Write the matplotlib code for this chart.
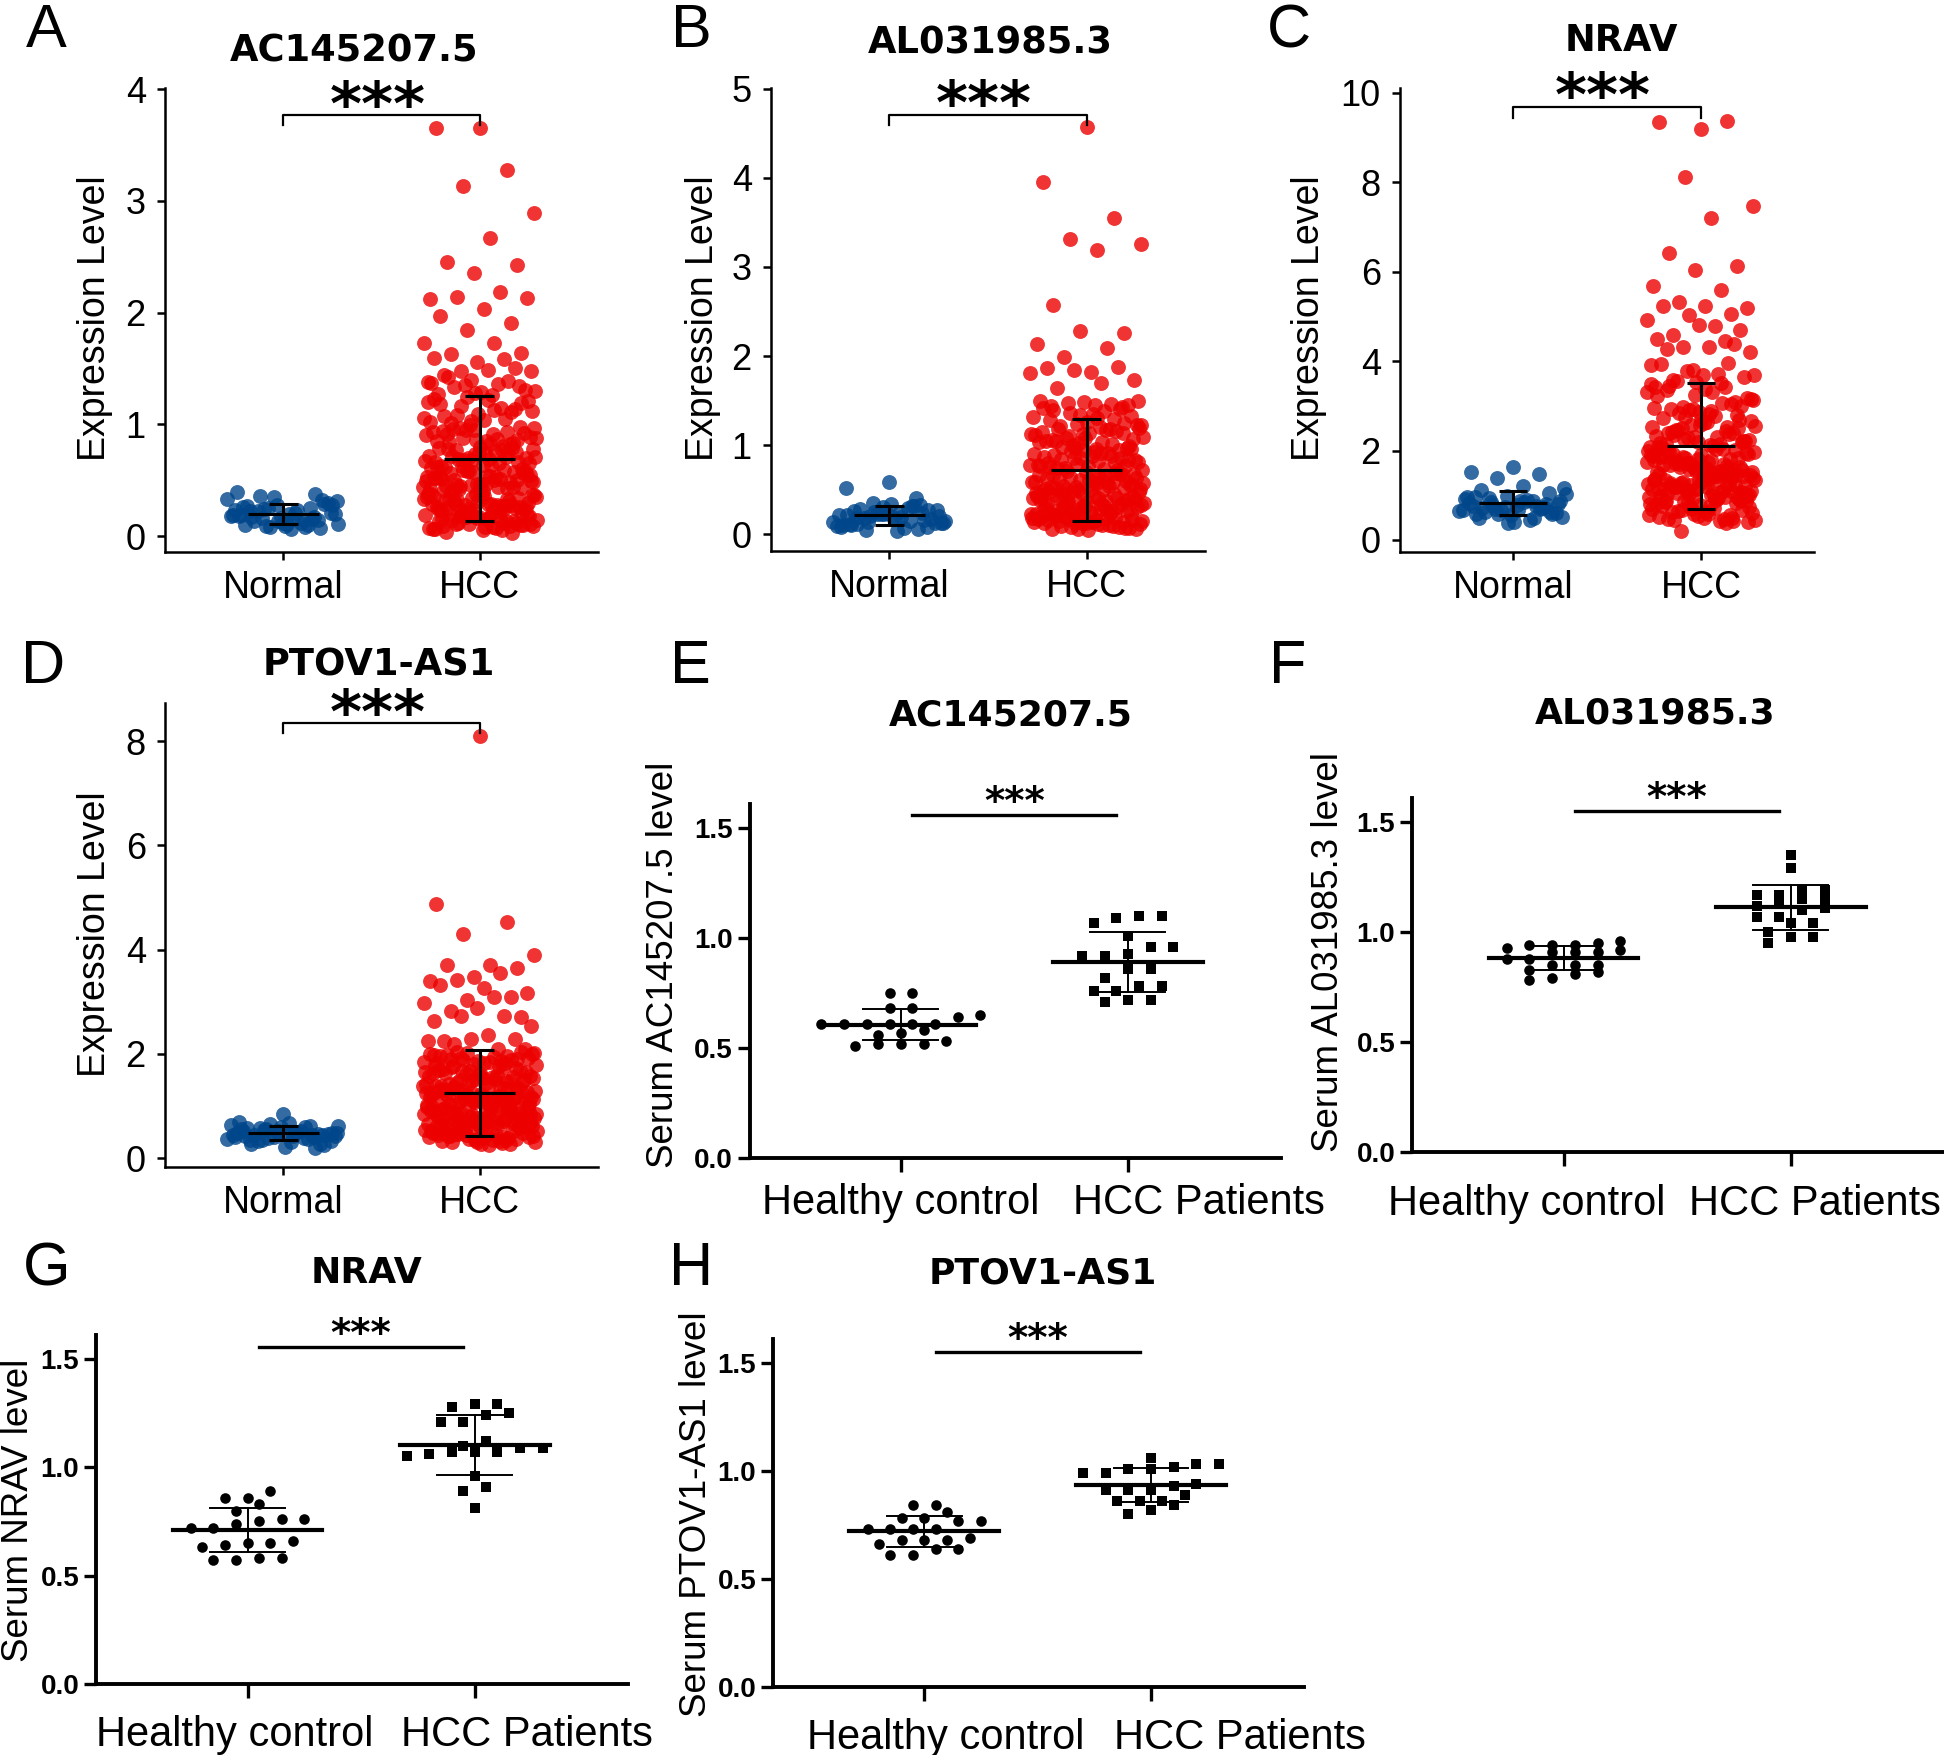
import numpy as np
import matplotlib
matplotlib.use("Agg")
import matplotlib.pyplot as plt
from matplotlib.transforms import ScaledTranslation

plt.rcParams['font.family'] = ['Liberation Sans', 'DejaVu Sans']

W, H = 1944, 1755
BLUE = "#00468B"
RED = "#ED0000"

# ---- TCGA panels (A-D): expression values ----
a_normal = [0.12, 0.18, 0.25, 0.09, 0.31, 0.15, 0.22, 0.07, 0.28, 0.19,
            0.14, 0.36, 0.21, 0.11, 0.26, 0.17, 0.08, 0.33, 0.23, 0.13,
            0.29, 0.16, 0.39, 0.10, 0.24, 0.20, 0.06, 0.27, 0.14, 0.35,
            0.18, 0.12, 0.22, 0.30, 0.09, 0.19, 0.15, 0.25, 0.11, 0.21,
            0.17, 0.32, 0.13, 0.23, 0.08, 0.16, 0.28, 0.20, 0.10, 0.38]
a_hcc = [3.65, 3.65, 3.28, 3.13, 2.89, 2.67, 2.45, 2.43, 2.35, 2.12,
         2.18, 2.14, 2.13, 2.03, 1.97, 1.91, 1.84, 1.73, 1.73, 1.63,
         1.64, 1.56, 1.59, 1.58, 1.48, 1.48, 1.49, 1.44, 1.50,
         1.40, 1.38, 1.36, 1.33, 1.31, 1.29, 1.27, 1.39, 1.35, 1.30,
         1.26, 1.42, 1.34, 1.28, 1.37,
         0.05, 0.12, 0.18, 0.08, 0.15, 0.03, 0.11, 0.19, 0.07, 0.14,
         0.10, 0.17, 0.06, 0.13, 0.20, 0.09, 0.16, 0.04, 0.12, 0.18,
         0.07, 0.15, 0.11, 0.19, 0.05, 0.13, 0.09, 0.17, 0.14, 0.08,
         0.20, 0.10, 0.16, 0.06, 0.12, 0.18, 0.11, 0.15, 0.09, 0.13,
         0.22, 0.35, 0.28, 0.31, 0.24, 0.39, 0.26, 0.33, 0.21, 0.37,
         0.29, 0.25, 0.34, 0.23, 0.38, 0.27, 0.32, 0.30, 0.36, 0.22,
         0.28, 0.24, 0.33, 0.26, 0.39, 0.21, 0.31, 0.35, 0.27, 0.23,
         0.37, 0.29, 0.32, 0.25, 0.34, 0.38, 0.22, 0.30, 0.26, 0.36,
         0.24, 0.31, 0.28, 0.35, 0.21, 0.33, 0.26, 0.38, 0.29, 0.23,
         0.42, 0.55, 0.47, 0.51, 0.44, 0.58, 0.49, 0.53, 0.41, 0.56,
         0.46, 0.52, 0.43, 0.59, 0.48, 0.54, 0.45, 0.50, 0.57, 0.42,
         0.51, 0.46, 0.55, 0.40, 0.53, 0.48, 0.58, 0.44, 0.50, 0.56,
         0.43, 0.47, 0.52, 0.59, 0.45, 0.49, 0.54, 0.41, 0.57, 0.46,
         0.53, 0.44, 0.50, 0.58, 0.47,
         0.62, 0.75, 0.68, 0.71, 0.64, 0.78, 0.66, 0.73, 0.61, 0.77,
         0.69, 0.65, 0.74, 0.63, 0.79, 0.70, 0.67, 0.76, 0.72, 0.60,
         0.74, 0.66, 0.71, 0.63, 0.78, 0.69, 0.62, 0.75, 0.68, 0.72,
         0.65, 0.77, 0.70, 0.64, 0.79,
         0.82, 0.95, 0.88, 0.91, 0.84, 0.98, 0.86, 0.93, 0.81, 0.97,
         0.89, 0.85, 0.94, 0.83, 0.99, 0.90, 0.87, 0.96, 0.92, 0.80,
         0.85, 0.93, 0.88, 0.97, 0.82, 0.91, 0.86, 0.95,
         1.02, 1.15, 1.08, 1.21, 1.04, 1.18, 1.11, 1.24, 1.06, 1.13,
         1.01, 1.19, 1.09, 1.23, 1.05, 1.16, 1.12, 1.22, 1.07, 1.14,
         1.03, 1.20]

b_normal = [0.59, 0.52, 0.40, 0.35, 0.12, 0.25, 0.18, 0.08, 0.30, 0.21,
            0.15, 0.05, 0.27, 0.19, 0.11, 0.33, 0.23, 0.14, 0.07, 0.28,
            0.17, 0.24, 0.10, 0.31, 0.20, 0.13, 0.03, 0.26, 0.16, 0.22,
            0.09, 0.29, 0.18, 0.12, 0.34, 0.21, 0.06, 0.25, 0.15, 0.19,
            0.11, 0.27, 0.23, 0.08, 0.32, 0.14, 0.20, 0.17, 0.10, 0.24]
b_hcc = [4.57, 3.95, 3.55, 3.31, 3.26, 3.19, 2.57, 2.26, 2.28, 2.13,
         2.09, 1.99, 1.73, 1.82, 1.86, 1.88, 1.84, 1.81, 1.70, 1.64,
         1.45, 1.48, 1.50, 1.46, 1.47, 1.49, 1.45, 1.44, 1.43,
         0.06, 0.14, 0.19, 0.09, 0.16, 0.05, 0.12, 0.18, 0.08, 0.15,
         0.11, 0.20, 0.07, 0.13, 0.17, 0.10, 0.19, 0.06, 0.14, 0.16,
         0.08, 0.12, 0.18, 0.10, 0.15, 0.07, 0.13, 0.20, 0.09, 0.17,
         0.11, 0.16, 0.06, 0.14, 0.19,
         0.23, 0.37, 0.29, 0.42, 0.25, 0.33, 0.40, 0.21, 0.35, 0.28,
         0.44, 0.26, 0.31, 0.38, 0.22, 0.36, 0.30, 0.43, 0.24, 0.34,
         0.27, 0.41, 0.32, 0.39, 0.22, 0.36, 0.29, 0.45, 0.25, 0.33,
         0.40, 0.21, 0.37, 0.28, 0.43, 0.26, 0.31, 0.38, 0.24, 0.35,
         0.30, 0.42, 0.23, 0.34, 0.27, 0.39, 0.32, 0.44, 0.26, 0.36,
         0.47, 0.62, 0.53, 0.68, 0.49, 0.58, 0.65, 0.46, 0.55, 0.61,
         0.51, 0.69, 0.48, 0.57, 0.64, 0.52, 0.60, 0.46, 0.66, 0.54,
         0.50, 0.63, 0.56, 0.47, 0.67, 0.53, 0.59, 0.49, 0.62, 0.55,
         0.70, 0.48, 0.58, 0.64, 0.51, 0.57, 0.66, 0.52, 0.61, 0.46,
         0.59, 0.54, 0.68, 0.50, 0.63,
         0.72, 0.86, 0.78, 0.91, 0.74, 0.83, 0.94, 0.76, 0.88, 0.71,
         0.81, 0.92, 0.75, 0.85, 0.79, 0.90, 0.73, 0.84, 0.95, 0.77,
         0.87, 0.80, 0.93, 0.72, 0.82, 0.89, 0.76, 0.85, 0.78, 0.91,
         0.74, 0.83, 0.88, 0.80, 0.94,
         0.97, 1.12, 1.03, 1.18, 0.99, 1.08, 1.15, 1.01, 1.10, 1.19,
         0.96, 1.06, 1.14, 1.02, 1.11, 1.17, 0.98, 1.07, 1.13, 1.04,
         1.16, 1.00, 1.09, 1.20, 1.05, 0.97, 1.12, 1.03, 1.18, 1.08,
         1.22, 1.35, 1.28, 1.40, 1.24, 1.31, 1.38, 1.21, 1.33, 1.26,
         1.42, 1.29, 1.36, 1.23, 1.30, 1.39, 1.25, 1.34]

c_normal = [1.64, 1.51, 1.48, 1.38, 1.17, 1.20, 1.12, 1.05, 0.98, 0.92,
            0.88, 0.85, 0.81, 0.78, 0.95, 0.72, 0.68, 0.65, 0.90, 0.62,
            0.58, 0.55, 0.83, 0.76, 0.70, 0.52, 0.87, 0.48, 0.80, 0.74,
            0.66, 0.44, 0.93, 0.60, 0.40, 0.77, 0.69, 0.57, 1.02, 0.84,
            0.71, 0.63, 0.38, 0.96, 0.50, 0.79, 0.86, 0.67, 0.59, 0.73]
c_hcc = [9.19, 9.34, 9.38, 8.13, 7.46, 7.20, 6.41, 6.13, 6.04, 5.69,
         5.58, 5.32, 5.19, 5.24, 5.24, 5.06, 5.03, 4.92, 4.78, 4.59,
         4.70, 4.81, 4.50, 4.46, 4.32, 4.20, 4.32, 4.27, 4.38, 3.80,
         3.91, 3.71, 3.56, 3.65, 3.69, 3.94, 3.96, 3.78, 3.69, 3.31,
         2.93, 2.51, 3.53, 3.42, 3.06, 0.21,
         0.40, 0.62, 0.85, 0.48, 0.73, 0.55, 0.90, 0.44, 0.68, 0.79,
         0.52, 0.38, 0.87, 0.60, 0.75, 0.46, 0.82, 0.58, 0.70, 0.42,
         0.65, 0.88, 0.50, 0.77, 0.56, 0.84, 0.45, 0.71, 0.63, 0.89,
         0.53, 0.80, 0.47, 0.67, 0.74, 0.59, 0.86, 0.43, 0.69, 0.81,
         0.93, 1.18, 1.05, 1.32, 0.97, 1.24, 1.11, 1.38, 1.01, 1.27,
         0.95, 1.15, 1.35, 1.08, 1.21, 0.99, 1.30, 1.13, 1.40, 1.03,
         1.26, 0.92, 1.19, 1.07, 1.34, 1.16, 0.96, 1.29, 1.10, 1.37,
         1.02, 1.23, 0.94, 1.14, 1.31, 1.06, 1.20, 1.39, 0.98, 1.25,
         1.12, 1.33, 1.04, 1.22, 0.91, 1.17, 1.36, 1.09, 1.28, 1.00,
         1.19, 1.35, 1.07, 1.24, 0.95,
         1.43, 1.72, 1.56, 1.91, 1.48, 1.65, 1.84, 1.52, 1.78, 1.97,
         1.45, 1.61, 1.88, 1.54, 1.70, 1.95, 1.49, 1.67, 1.82, 1.58,
         1.75, 1.42, 1.93, 1.63, 1.80, 1.51, 1.69, 1.86, 1.46, 1.74,
         1.99, 1.57, 1.66, 1.89, 1.53, 1.77, 1.44, 1.62, 1.85, 1.59,
         1.71, 1.96, 1.50, 1.68, 1.83, 1.55, 1.79, 1.47, 1.64, 1.92,
         1.60, 1.87, 1.41, 1.73, 1.98,
         2.03, 2.35, 2.18, 2.58, 2.08, 2.44, 2.26, 2.66, 2.12, 2.39,
         2.01, 2.30, 2.52, 2.15, 2.47, 2.22, 2.61, 2.06, 2.37, 2.28,
         2.55, 2.10, 2.42, 2.69, 2.19, 2.33, 2.04, 2.50, 2.24, 2.63,
         2.14, 2.40, 2.57, 2.09, 2.31, 2.45, 2.21, 2.68, 2.16, 2.53,
         2.74, 3.12, 2.88, 3.45, 2.79, 3.25, 2.95, 3.52, 2.83, 3.18,
         3.38, 2.72, 3.05, 2.91, 3.30, 2.77, 3.58, 3.00, 2.86, 3.21,
         3.42, 2.98, 3.15, 2.81, 3.35, 3.08, 2.93, 3.48]

d_normal = [0.84, 0.70, 0.62, 0.55, 0.48, 0.42, 0.35, 0.28, 0.51, 0.45,
            0.39, 0.58, 0.32, 0.47, 0.53, 0.41, 0.66, 0.37, 0.50, 0.44,
            0.25, 0.60, 0.49, 0.36, 0.54, 0.43, 0.30, 0.57, 0.46, 0.40,
            0.64, 0.52, 0.33, 0.47, 0.22, 0.56, 0.44, 0.38, 0.61, 0.50,
            0.27, 0.45, 0.53, 0.41, 0.59, 0.35, 0.48, 0.68, 0.42, 0.19]
d_hcc = [8.10, 4.88, 4.53, 4.30, 3.90, 3.71, 3.71, 3.64, 3.47, 3.40,
         3.55, 3.42, 3.17, 3.27, 3.32, 3.09, 3.03, 2.98, 3.09, 2.82,
         2.71, 2.88, 2.63, 2.73, 2.73, 2.53, 2.36, 2.25, 2.28, 2.28,
         2.25, 2.09, 2.19, 2.09,
         0.27, 0.45, 0.38, 0.56, 0.31, 0.49, 0.42, 0.59, 0.34, 0.52,
         0.29, 0.47, 0.40, 0.57, 0.33, 0.50, 0.36, 0.54, 0.44, 0.30,
         0.48, 0.39, 0.58, 0.35, 0.53, 0.43, 0.26, 0.51, 0.37, 0.55,
         0.41, 0.32, 0.46, 0.60, 0.38, 0.50, 0.28, 0.45, 0.53, 0.35,
         0.42, 0.57, 0.31, 0.48, 0.40,
         0.62, 0.85, 0.71, 0.94, 0.66, 0.79, 0.98, 0.68, 0.88, 0.74,
         0.61, 0.83, 0.92, 0.70, 0.77, 0.96, 0.64, 0.86, 0.73, 0.90,
         0.67, 0.81, 0.99, 0.75, 0.63, 0.89, 0.72, 0.84, 0.95, 0.69,
         0.78, 0.65, 0.91, 0.76, 0.87, 0.62, 0.80, 0.97, 0.70, 0.83,
         0.66, 0.93, 0.74, 0.88, 0.61, 0.79, 0.95, 0.68, 0.85, 0.72,
         0.90, 0.64, 0.77, 0.98, 0.71, 0.82, 0.67, 0.92, 0.75, 0.86,
         1.02, 1.25, 1.11, 1.34, 1.06, 1.19, 1.38, 1.08, 1.28, 1.14,
         1.01, 1.23, 1.32, 1.10, 1.17, 1.36, 1.04, 1.26, 1.13, 1.30,
         1.07, 1.21, 1.39, 1.15, 1.03, 1.29, 1.12, 1.24, 1.35, 1.09,
         1.18, 1.05, 1.31, 1.16, 1.27, 1.02, 1.20, 1.37, 1.10, 1.23,
         1.06, 1.33, 1.14, 1.28, 1.01, 1.19, 1.35, 1.08, 1.25, 1.12,
         1.30, 1.04, 1.17, 1.38, 1.11,
         1.42, 1.65, 1.51, 1.74, 1.46, 1.59, 1.78, 1.48, 1.68, 1.54,
         1.41, 1.63, 1.72, 1.50, 1.57, 1.76, 1.44, 1.66, 1.53, 1.70,
         1.47, 1.61, 1.79, 1.55, 1.43, 1.69, 1.52, 1.64, 1.75, 1.49,
         1.58, 1.45, 1.71, 1.56, 1.67, 1.42, 1.60, 1.77, 1.50, 1.63,
         1.82, 1.95, 1.88, 2.02, 1.84, 1.97, 1.91, 1.81, 1.99, 1.86,
         2.04, 1.93, 1.83, 1.96, 1.89, 2.01, 1.85, 1.94, 1.90, 2.03,
         1.87, 1.98, 1.82, 1.92, 2.00]

# mean and SD shown by the error bars (Normal, HCC)
a_stats = [(0.20, 0.09), (0.69, 0.56)]
b_stats = [(0.21, 0.11), (0.72, 0.57)]
c_stats = [(0.83, 0.27), (2.10, 1.40)]
d_stats = [(0.48, 0.14), (1.25, 0.82)]

# ---- Serum panels (E-H) ----
e_healthy = [0.75, 0.75, 0.68, 0.68, 0.65, 0.64, 0.61, 0.61, 0.61, 0.61,
             0.61, 0.61, 0.58, 0.57, 0.56, 0.53, 0.52, 0.52, 0.52, 0.51]
e_hcc = [1.10, 1.10, 1.09, 1.07, 1.01, 0.96, 0.96, 0.92, 0.92, 0.93,
         0.86, 0.86, 0.82, 0.78, 0.78, 0.76, 0.76, 0.72, 0.72, 0.71]
f_healthy = [0.96, 0.95, 0.94, 0.94, 0.94, 0.93, 0.92, 0.91, 0.91, 0.91,
             0.88, 0.88, 0.85, 0.85, 0.85, 0.83, 0.82, 0.81, 0.79, 0.78]
f_hcc = [1.35, 1.29, 1.19, 1.19, 1.17, 1.17, 1.15, 1.15, 1.14, 1.12,
         1.11, 1.10, 1.07, 1.07, 1.04, 1.04, 1.00, 0.98, 0.98, 0.95]
g_healthy = [0.89, 0.86, 0.86, 0.83, 0.80, 0.76, 0.76, 0.75, 0.74, 0.72,
             0.72, 0.66, 0.65, 0.65, 0.64, 0.63, 0.58, 0.58, 0.57, 0.57]
g_hcc = [1.29, 1.29, 1.28, 1.25, 1.24, 1.21, 1.21, 1.12, 1.10, 1.09,
         1.09, 1.07, 1.07, 1.07, 1.06, 1.05, 0.96, 0.91, 0.89, 0.81]
h_healthy = [0.84, 0.84, 0.81, 0.78, 0.78, 0.77, 0.77, 0.73, 0.73, 0.73,
             0.73, 0.69, 0.68, 0.68, 0.68, 0.66, 0.64, 0.64, 0.61, 0.61]
h_hcc = [1.06, 1.03, 1.03, 1.02, 1.01, 1.01, 0.99, 0.99, 0.94, 0.93,
         0.91, 0.91, 0.91, 0.89, 0.86, 0.86, 0.86, 0.84, 0.82, 0.80]

tcga_groups = ["Normal", "HCC"]
serum_groups = ["Healthy control", "HCC Patients"]

fig = plt.figure(figsize=(W / 100, H / 100), dpi=100)


def add_ax(l, t, r, b):
    # axes box given in pixels from the top-left corner
    return fig.add_axes([l / W, 1 - b / H, (r - l) / W, (b - t) / H])


def fig_text(x, y, s, **kw):
    fig.text(x / W, 1 - y / H, s, **kw)


def jitter(n, width):
    u = (0.5 + np.arange(n) * 0.6180339887) % 1.0
    return (u - 0.5) * 2 * width


def grid_swarm(vals, step=0.1, tol=0.042):
    # GraphPad-like layout: nearby values share a row, spread side by side
    vals = np.asarray(vals)
    order = np.argsort(vals)
    offs = np.zeros(len(vals))
    groups, cur, start = [], [], None
    for i in order:
        if start is None or vals[i] - start > tol:
            if cur:
                groups.append(cur)
            cur, start = [i], vals[i]
        else:
            cur.append(i)
    groups.append(cur)
    for g in groups:
        n = len(g)
        for k, i in enumerate(g):
            offs[i] = (k - (n - 1) / 2) * step
    return offs


def draw_tcga(ax, normal, hcc, stats, ylim, yticks, bracket):
    for x, vals, col in [(0, normal, BLUE), (1, hcc, RED)]:
        ax.scatter(x + jitter(len(vals), 0.29), vals, s=115, color=col,
                   alpha=0.8, linewidths=0, zorder=2)
    for x, (m, sd) in zip([0, 1], stats):
        kw = dict(color="black", lw=2.2, zorder=3, solid_capstyle="butt")
        ax.plot([x - 0.18, x + 0.18], [m, m], **kw)
        ax.plot([x, x], [m - sd, m + sd], **kw)
        ax.plot([x - 0.074, x + 0.074], [m + sd, m + sd], **kw)
        ax.plot([x - 0.074, x + 0.074], [m - sd, m - sd], **kw)
    top, tip = bracket
    ax.plot([0, 0, 1, 1], [tip, top, top, tip], color="black", lw=1.6)
    ax.annotate("***", xy=(0.5, top), xytext=(-3, -7), textcoords="offset points",
                ha="center", va="baseline", fontsize=44, fontweight="bold",
                family="DejaVu Sans")
    ax.set_xlim(-0.6, 1.6)
    ax.set_ylim(*ylim)
    ax.set_yticks(yticks)
    ax.set_xticks([0, 1])
    ax.set_xticklabels(tcga_groups)
    for s in ["top", "right"]:
        ax.spines[s].set_visible(False)
    for s in ["left", "bottom"]:
        ax.spines[s].set_linewidth(1.8)
    ax.tick_params(axis="y", labelsize=26, length=5.8, width=1.8, pad=8)
    ax.tick_params(axis="x", labelsize=27, length=5.8, width=1.8, pad=7)


def draw_serum(ax, healthy, hcc, sig_y, shifts, xpad):
    ax.scatter(0 + grid_swarm(healthy), healthy, marker="o", s=58,
               color="black", linewidths=0, zorder=3)
    ax.scatter(1 + grid_swarm(hcc), hcc, marker="s", s=54,
               color="black", linewidths=0, zorder=3)
    for x, vals in [(0, healthy), (1, hcc)]:
        m, sd = np.mean(vals), np.std(vals, ddof=1)
        ax.plot([x - 0.33, x + 0.33], [m, m], color="black", lw=3, zorder=4)
        thin = dict(color="black", lw=1.4, zorder=4)
        ax.plot([x, x], [m - sd, m + sd], **thin)
        ax.plot([x - 0.165, x + 0.165], [m + sd, m + sd], **thin)
        ax.plot([x - 0.165, x + 0.165], [m - sd, m - sd], **thin)
    ax.plot([0.05, 0.95], [sig_y, sig_y], color="black", lw=2.4)
    ax.annotate("***", xy=(0.5, sig_y), xytext=(0, 1), textcoords="offset points",
                ha="center", va="baseline", fontsize=28, fontweight="bold",
                family="DejaVu Sans")
    ax.set_xlim(-0.667, 1.675)
    ax.set_ylim(0, 1.61)
    ax.set_yticks([0, 0.5, 1.0, 1.5])
    ax.set_yticklabels(["0.0", "0.5", "1.0", "1.5"], fontweight="bold")
    ax.set_xticks([0, 1])
    ax.set_xticklabels(serum_groups)
    for s in ["top", "right"]:
        ax.spines[s].set_visible(False)
    for s in ["left", "bottom"]:
        ax.spines[s].set_linewidth(2.8)
    ax.tick_params(axis="y", labelsize=20, length=9, width=2.4, pad=3)
    ax.tick_params(axis="x", labelsize=30, length=10, width=2.4, pad=xpad)
    for lbl, dx in zip(ax.get_xticklabels(), shifts):
        lbl.set_transform(lbl.get_transform() +
                          ScaledTranslation(dx / 100, 0, fig.dpi_scale_trans))


ax_a = add_ax(165, 88, 598, 552)
draw_tcga(ax_a, a_normal, a_hcc, a_stats, (-0.143, 4.01), [0, 1, 2, 3, 4], (3.77, 3.68))
ax_b = add_ax(771, 88, 1205, 551)
draw_tcga(ax_b, b_normal, b_hcc, b_stats, (-0.19, 5.01), [0, 1, 2, 3, 4, 5], (4.71, 4.60))
ax_c = add_ax(1400, 88, 1814, 552)
draw_tcga(ax_c, c_normal, c_hcc, c_stats, (-0.27, 10.11), [0, 2, 4, 6, 8, 10], (9.69, 9.45))
ax_d = add_ax(165, 703, 598, 1167)
draw_tcga(ax_d, d_normal, d_hcc, d_stats, (-0.17, 8.73), [0, 2, 4, 6, 8], (8.34, 8.16))

ax_e = add_ax(749.5, 804, 1281, 1158)
draw_serum(ax_e, e_healthy, e_hcc, 1.56, (0, 71), 8)
ax_f = add_ax(1412, 798, 1944, 1152)
draw_serum(ax_f, f_healthy, f_hcc, 1.55, (-37, 24), 13)
ax_g = add_ax(96, 1335, 628, 1684)
draw_serum(ax_g, g_healthy, g_hcc, 1.555, (-13, 52), 12)
ax_h = add_ax(773, 1339, 1304, 1687)
draw_serum(ax_h, h_healthy, h_hcc, 1.55, (21, 89), 12)

# titles
title_kw = dict(ha="center", va="baseline", fontweight="bold", family="DejaVu Sans")
fig_text(354, 61, "AC145207.5", fontsize=26.5, **title_kw)
fig_text(990, 53, "AL031985.3", fontsize=26.5, **title_kw)
fig_text(1621, 51, "NRAV", fontsize=26.5, **title_kw)
fig_text(379, 675, "PTOV1-AS1", fontsize=26.5, **title_kw)
fig_text(1011, 725, "AC145207.5", fontsize=26, **title_kw)
fig_text(1655, 724, "AL031985.3", fontsize=26, **title_kw)
fig_text(366, 1283, "NRAV", fontsize=26, **title_kw)
fig_text(1043, 1283, "PTOV1-AS1", fontsize=26, **title_kw)

# y-axis labels
ylab_kw = dict(ha="center", va="center", rotation=90)
for x, y, s in [(95, 318, "Expression Level"), (703, 318, "Expression Level"),
                (1309, 318, "Expression Level"), (95, 934, "Expression Level")]:
    fig_text(x, y, s, fontsize=27, **ylab_kw)
for x, y, s in [(663, 965, "Serum AC145207.5 level"), (1328, 952, "Serum AL031985.3 level"),
                (19, 1510, "Serum NRAV level"), (696, 1514, "Serum PTOV1-AS1 level")]:
    fig_text(x, y, s, fontsize=26.5, **ylab_kw)

# panel letters
for x, y, s in [(26, 47, "A"), (671, 47, "B"), (1267, 47, "C"),
                (21, 683, "D"), (670, 683, "E"), (1269, 683, "F"),
                (23, 1285, "G"), (669, 1285, "H")]:
    fig_text(x, y, s, fontsize=44, ha="left", va="baseline")

fig.savefig("out.png", dpi=100, facecolor="white")
